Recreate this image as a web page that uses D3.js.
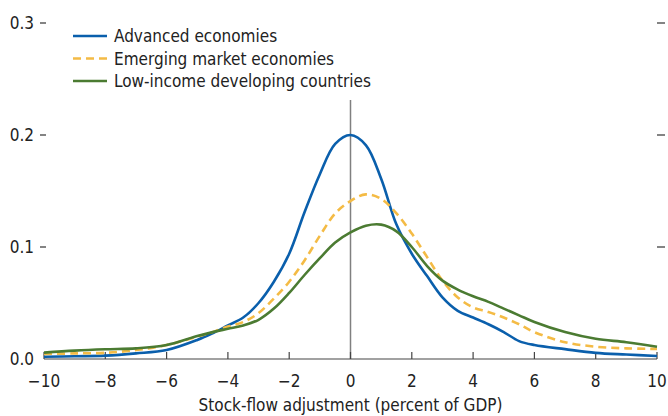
<!DOCTYPE html>
<html>
<head>
<meta charset="utf-8">
<title>Stock-flow adjustment density</title>
<script src="https://cdn.jsdelivr.net/npm/d3@7"></script>
<style>
  body { margin: 0; background: #fff; }
  svg { display: block; font-family: "Liberation Sans Narrow", "DejaVu Sans Condensed", sans-serif; }
</style>
</head>
<body>
<svg id="chart" width="668" height="416"></svg>
<script>
// x grid the densities were read at (percent of GDP)
const xs = [-10, -9, -8, -7, -6, -5, -4.5, -4, -3.5, -3, -2.5, -2, -1.5, -1, -0.5, 0,
            0.5, 1, 1.5, 2, 2.5, 3, 3.5, 4, 4.5, 5, 5.5, 6, 7, 8, 9, 10];

const advanced = [0.002, 0.0025, 0.003, 0.005, 0.008, 0.017, 0.023, 0.030, 0.037, 0.050, 0.069, 0.094, 0.131, 0.165, 0.192, 0.200,
                  0.191, 0.161, 0.120, 0.094, 0.074, 0.055, 0.043, 0.037, 0.031, 0.024, 0.016, 0.0125, 0.0088, 0.0055, 0.004, 0.0027];
const emerging = [0.0045, 0.005, 0.0055, 0.008, 0.0125, 0.020, 0.024, 0.029, 0.033, 0.041, 0.054, 0.069, 0.088, 0.110, 0.130, 0.141,
                  0.147, 0.143, 0.130, 0.112, 0.091, 0.070, 0.055, 0.046, 0.042, 0.037, 0.031, 0.024, 0.015, 0.011, 0.0095, 0.009];
const lowIncome = [0.0057, 0.0075, 0.0087, 0.0095, 0.0125, 0.0205, 0.024, 0.027, 0.030, 0.035, 0.045, 0.059, 0.075, 0.090, 0.104, 0.113,
                   0.119, 0.120, 0.114, 0.100, 0.083, 0.070, 0.062, 0.056, 0.051, 0.045, 0.039, 0.033, 0.024, 0.018, 0.015, 0.011];

const seriesNames = ["Advanced economies", "Emerging market economies", "Low-income developing countries"];
const xTicks = [-10, -8, -6, -4, -2, 0, 2, 4, 6, 8, 10];
const yTicks = [0, 0.1, 0.2, 0.3];

const series = [
  { name: seriesNames[0], values: advanced, color: "#0a5fac", dash: null },
  { name: seriesNames[1], values: emerging, color: "#f4bb45", dash: "8,5" },
  { name: seriesNames[2], values: lowIncome, color: "#4b7b32", dash: null }
];

const svg = d3.select("#chart");
const m = { left: 44, right: 11, top: 23, bottom: 57 };
const W = 668, H = 416;

const x = d3.scaleLinear().domain([-10, 10]).range([m.left, W - m.right]);
const y = d3.scaleLinear().domain([0, 0.3]).range([H - m.bottom, m.top]);

const minus = s => s.replace("-", "\u2212");

// left tick labels with small dash
const yg = svg.append("g");
yg.selectAll("text").data(yTicks).join("text")
  .attr("x", 34).attr("y", d => y(d) + 6)
  .attr("text-anchor", "end")
  .attr("font-size", 17).attr("fill", "#222")
  .text(d => d3.format(".1f")(d));
yg.selectAll("line.l").data(yTicks.filter(d => d > 0)).join("line")
  .attr("class", "l")
  .attr("x1", 40).attr("x2", 46)
  .attr("y1", d => y(d)).attr("y2", d => y(d))
  .attr("stroke", "#333").attr("stroke-width", 1.2);
// right edge ticks
yg.selectAll("line.r").data(yTicks.filter(d => d > 0)).join("line")
  .attr("class", "r")
  .attr("x1", x(10)).attr("x2", x(10) + 8)
  .attr("y1", d => y(d)).attr("y2", d => y(d))
  .attr("stroke", "#333").attr("stroke-width", 1.2);

// zero line
svg.append("line")
  .attr("x1", x(0)).attr("x2", x(0))
  .attr("y1", 100).attr("y2", y(0))
  .attr("stroke", "#808080").attr("stroke-width", 1.5);

// x axis
svg.append("line")
  .attr("x1", x(-10)).attr("x2", x(10))
  .attr("y1", y(0)).attr("y2", y(0))
  .attr("stroke", "#444").attr("stroke-width", 1.2);
svg.append("g").selectAll("line").data(xTicks).join("line")
  .attr("x1", d => x(d)).attr("x2", d => x(d))
  .attr("y1", y(0)).attr("y2", y(0) - 7)
  .attr("stroke", "#444").attr("stroke-width", 1.2);
svg.append("g").selectAll("text").data(xTicks).join("text")
  .attr("x", d => x(d)).attr("y", y(0) + 28)
  .attr("text-anchor", "middle")
  .attr("font-size", 17).attr("fill", "#222")
  .text(d => minus(String(d)));

svg.append("text")
  .attr("x", x(0)).attr("y", 411)
  .attr("text-anchor", "middle")
  .attr("font-size", 17).attr("fill", "#222")
  .text("Stock-flow adjustment (percent of GDP)");

// density lines
const line = d3.line().curve(d3.curveCatmullRom.alpha(0.5))
  .x((d, i) => x(xs[i])).y(d => y(d));

svg.append("g").selectAll("path").data(series).join("path")
  .attr("d", d => line(d.values))
  .attr("fill", "none")
  .attr("stroke", d => d.color)
  .attr("stroke-width", 2.6)
  .attr("stroke-dasharray", d => d.dash)
  .attr("stroke-linejoin", "round");

// legend
const lg = svg.append("g").selectAll("g").data(series).join("g")
  .attr("transform", (d, i) => `translate(73, ${36 + i * 22.5})`);
lg.append("line")
  .attr("x1", 0).attr("x2", 34)
  .attr("stroke", d => d.color).attr("stroke-width", 2.6)
  .attr("stroke-dasharray", d => d.dash);
lg.append("text")
  .attr("x", 41).attr("y", 6)
  .attr("font-size", 17).attr("fill", "#222")
  .text(d => d.name);
</script>
</body>
</html>
